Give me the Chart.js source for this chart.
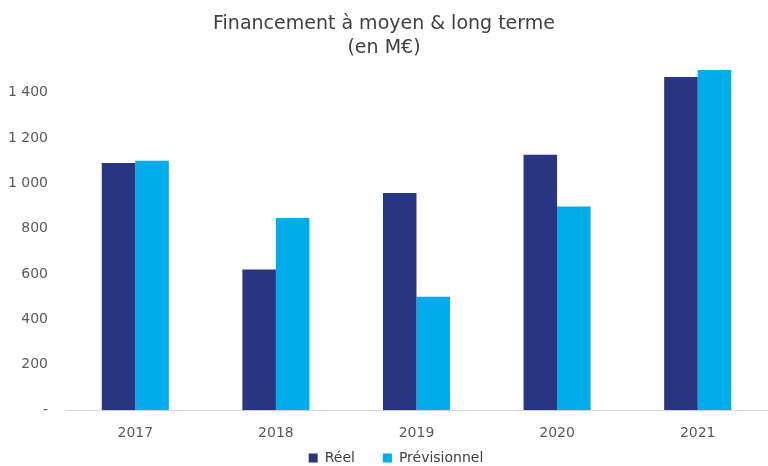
<!DOCTYPE html>
<html>
<head>
<meta charset="utf-8">
<script src="https://cdn.jsdelivr.net/npm/chart.js@4.4.0/dist/chart.umd.min.js"></script>
<style>
  html, body { margin: 0; padding: 0; background: #fff; }
  #wrap { width: 768px; height: 466px; }
</style>
</head>
<body>
<div id="wrap"><canvas id="chart"></canvas></div>
<script>
const years = ["2017", "2018", "2019", "2020", "2021"];
const reel = [1090, 620, 957, 1126, 1469];
const previsionnel = [1100, 847, 500, 898, 1500];
const titleLines = ["Financement à moyen & long terme", "(en M€)"];

const FONT = "'DejaVu Sans', sans-serif";
// legend takes this much room in the layout, then is raised so its
// wide item padding does not eat into the plot
const LEGEND_ROOM = 17;
const LEGEND_RAISE = 26;
const LEGEND_NUDGE = 24;

function formatTick(value) {
  if (value === 0) return "-";
  if (value > 1400) return "";
  return value.toLocaleString("fr-FR").replace(/\u202f|\u00a0/g, " ");
}

const tightLegend = {
  id: "tightLegend",
  beforeLayout(chart) {
    let legend = chart.legend;
    if (!legend || legend.tight) return;
    let fit = legend.fit.bind(legend);
    legend.fit = function() {
      fit();
      this.height = LEGEND_ROOM;
    };
    legend.tight = true;
  },
  afterLayout(chart) {
    chart.legend.top -= LEGEND_RAISE;
    chart.legend.left += LEGEND_NUDGE;
  }
};

let ctx = document.getElementById("chart").getContext("2d");
let chart = new Chart(ctx, {
  type: "bar",
  data: {
    labels: years,
    datasets: [{
      label: "Réel",
      data: reel,
      backgroundColor: "#283580",
      categoryPercentage: 0.477,
      barPercentage: 1
    }, {
      label: "Prévisionnel",
      data: previsionnel,
      backgroundColor: "#00ACE9",
      categoryPercentage: 0.477,
      barPercentage: 1
    }]
  },
  plugins: [tightLegend],
  options: {
    responsive: true,
    maintainAspectRatio: false,
    animation: false,
    layout: { padding: { left: 0, right: 0, top: 12, bottom: 0 } },
    plugins: {
      title: {
        display: true,
        text: titleLines,
        color: "#404040",
        font: { family: FONT, size: 19, weight: "normal", lineHeight: 1.26 },
        padding: { top: 0, bottom: 10 }
      },
      legend: {
        position: "bottom",
        labels: {
          color: "#404040",
          font: { family: FONT, size: 14 },
          boxWidth: 9,
          boxHeight: 9,
          padding: 28
        }
      },
      tooltip: { enabled: false }
    },
    scales: {
      x: {
        grid: { display: false },
        border: { display: true, color: "#d9d9d9", width: 1 },
        ticks: {
          color: "#595959",
          font: { family: FONT, size: 14 },
          padding: 7
        }
      },
      y: {
        min: 0,
        max: 1500,
        afterFit: function(scale) { scale.width = 65; },
        grid: { display: false },
        border: { display: false },
        ticks: {
          stepSize: 200,
          color: "#595959",
          font: { family: FONT, size: 14 },
          padding: 9,
          callback: formatTick
        }
      }
    }
  }
});
</script>
</body>
</html>
